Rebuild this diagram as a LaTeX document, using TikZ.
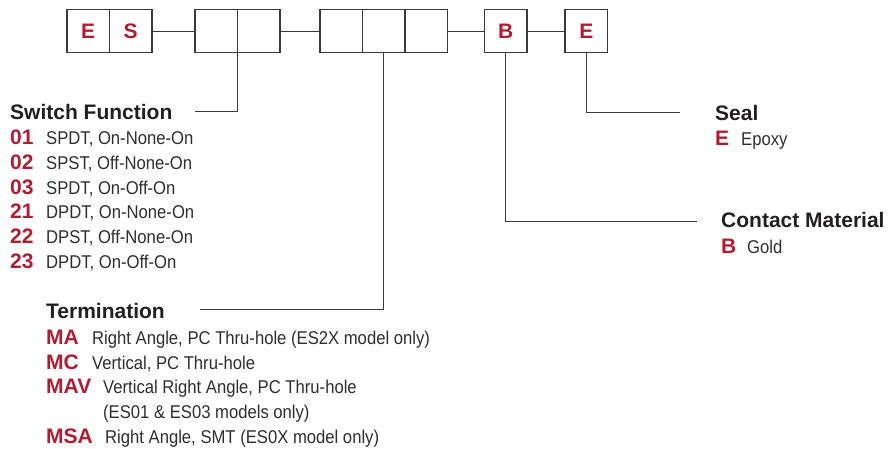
\documentclass[tikz,border=0pt]{standalone}
\usepackage{fontspec}
\setmainfont{Liberation Sans}
\newfontfamily\condfont[FakeStretch=0.9]{Liberation Sans}
\usetikzlibrary{positioning}
\definecolor{codered}{HTML}{B01C32}
\definecolor{inkgray}{HTML}{231F20}
\definecolor{textgray}{HTML}{2E2E2E}
\definecolor{linegray}{HTML}{3A3A3A}

\begin{document}
\begin{tikzpicture}[x=1pt, y=-1pt,
    digit/.style={draw=linegray, line width=1.1pt, minimum width=42.5pt, minimum height=43pt,
      inner sep=0pt, outer sep=0pt, text=codered, font=\bfseries\fontsize{21}{24}\selectfont},
    lead/.style={draw=linegray, line width=1pt},
    heading/.style={anchor=base west, inner sep=0pt, text=inkgray, font=\bfseries\fontsize{21}{24}\selectfont},
    code/.style={anchor=base west, inner sep=0pt, text=codered, font=\bfseries\fontsize{21}{24}\selectfont},
    desc/.style={anchor=base west, inner sep=0pt, text=textgray, font=\condfont\fontsize{18.5}{24}\selectfont}]
    \useasboundingbox (0,0) rectangle (892,448);

    % Part number boxes
    \node[digit, anchor=north west] (e1) at (67,9.5) {E};
    \node[digit, right=0pt of e1] (s1) {S};
    \node[digit, right=43pt of s1] (f1) {};
    \node[digit, right=0pt of f1] (f2) {};
    \node[digit, right=40pt of f2] (t1) {};
    \node[digit, right=0pt of t1] (t2) {};
    \node[digit, right=0pt of t2] (t3) {};
    \node[digit, right=37pt of t3] (mb) {B};
    \node[digit, right=38pt of mb] (se) {E};
    \draw[lead] (s1) -- (f1);
    \draw[lead] (f2) -- (t1);
    \draw[lead] (t3) -- (mb);
    \draw[lead] (mb) -- (se);

    % Leaders to the legends
    \coordinate (swend) at (195,111.7);
    \coordinate (tmend) at (200,309);
    \coordinate (cmend) at (697,221);
    \coordinate (slend) at (680,112);
    \draw[lead] (f1.south east) |- (swend);
    \draw[lead] (t2.south) |- (tmend);
    \draw[lead] (mb.south) |- (cmend);
    \draw[lead] (se.south) |- (slend);

    % Switch function
    \node[heading] (swhead) at (10,119) {Switch Function};
    \node[code] (c01) at (10,144) {01};
    \node[desc] (d01) at (46,144) {SPDT, On-None-On};
    \node[code] (c02) at (10,169) {02};
    \node[desc] (d02) at (46,169) {SPST, Off-None-On};
    \node[code] (c03) at (10,194) {03};
    \node[desc] (d03) at (46,194) {SPDT, On-Off-On};
    \node[code] (c21) at (10,218) {21};
    \node[desc] (d21) at (46,218) {DPDT, On-None-On};
    \node[code] (c22) at (10,243) {22};
    \node[desc] (d22) at (46,243) {DPST, Off-None-On};
    \node[code] (c23) at (10,268) {23};
    \node[desc] (d23) at (46,268) {DPDT, On-Off-On};

    % Termination
    \node[heading] (tmhead) at (46,318) {Termination};
    \node[code] (cma) at (46,344) {MA};
    \node[desc] (dma) at (92,344) {Right Angle, PC Thru-hole (ES2X model only)};
    \node[code] (cmc) at (46,369) {MC};
    \node[desc] (dmc) at (92,369) {Vertical, PC Thru-hole};
    \node[code] (cmav) at (46,393) {MAV};
    \node[desc] (dmav) at (103,393) {Vertical Right Angle, PC Thru-hole};
    \node[desc] (dmav2) at (103,418) {(ES01 \& ES03 models only)};
    \node[code] (cmsa) at (46,443) {MSA};
    \node[desc] (dmsa) at (105,443) {Right Angle, SMT (ES0X model only)};

    % Contact material
    \node[heading] (cmhead) at (721,227) {Contact Material};
    \node[code] (cb) at (721,253) {B};
    \node[desc] (db) at (747,253) {Gold};

    % Seal
    \node[heading] (slhead) at (715,120) {Seal};
    \node[code] (ce) at (715,145) {E};
    \node[desc] (de) at (741,145) {Epoxy};
\end{tikzpicture}
\end{document}
